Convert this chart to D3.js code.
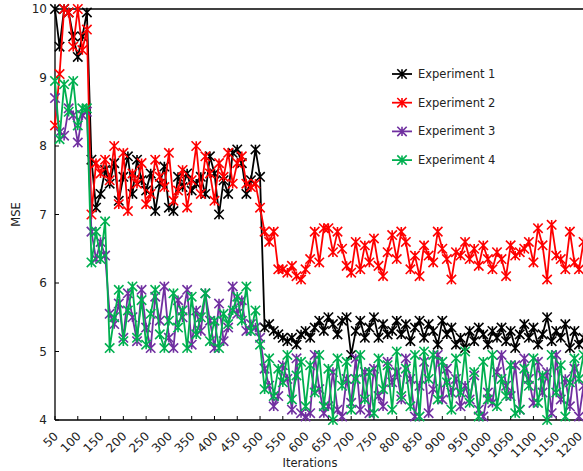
<!DOCTYPE html>
<html>
<head>
<meta charset="utf-8">
<script src="https://cdn.jsdelivr.net/npm/d3@7"></script>
<style>
  body { margin: 0; background: #fff; }
  text { font-family: "DejaVu Sans", Verdana, sans-serif; }
</style>
</head>
<body>
<svg id="chart" width="583" height="471"></svg>
<script>
// iterations, sampled every 10
const iterations = d3.range(50, 1220, 10);
const xTicks = d3.range(50, 1250, 50);
const yTicks = [4, 5, 6, 7, 8, 9, 10];

const exp1 = [
    10, 9.45, 10, 9.95, 9.6, 9.3, 9.6, 9.95,
    7.8, 7.1, 7.3, 7.65, 7.45, 7.75, 7.2, 7.55, 7.85, 7.3, 7.8, 7.5, 7.35, 7.6, 7.05, 7.45, 7.7, 7.1, 7.05,
    7.55, 7.4, 7.6, 7.35, 7.45, 7.55, 7.3, 7.85, 7.6, 7.0, 7.5, 7.3, 7.9, 7.95, 7.75, 7.3, 7.5, 7.95,
    7.55,
    5.35, 5.4, 5.3, 5.25, 5.2, 5.15, 5.2, 5.1, 5.25, 5.3,
    5.2, 5.35, 5.45, 5.3, 5.5, 5.4, 5.25, 5.45, 5.5, 4.95,
    5.3, 5.45, 5.2, 5.35, 5.5, 5.2, 5.4, 5.25, 5.3, 5.45,
    5.25, 5.4, 5.15, 5.35, 5.45, 5.2, 5.4, 5.3, 5.1, 5.45,
    5.25, 5.35, 5.1, 5.2, 5.05, 5.3, 5.15, 5.35, 5.25, 5.1,
    5.3, 5.2, 5.35, 5.15, 5.3, 5.05, 5.25, 5.4, 5.2, 5.35,
    5.1, 5.25, 5.5, 5.15, 5.3, 5.2, 5.4, 5.05, 5.3, 5.1,
    5.2
];
const exp2 = [
    8.3, 9.05, 10, 9.95, 9.45, 10, 9.4, 9.7,
    7.0, 7.75, 7.6, 7.8, 7.5, 8.0, 7.15, 7.9, 7.05, 7.6, 7.45, 7.75, 7.15, 7.3, 7.8, 7.55, 7.4, 7.9, 7.2,
    7.35, 7.65, 7.1, 7.5, 8.0, 7.3, 7.85, 7.6, 7.2, 7.75, 7.55, 7.9, 7.45, 7.75, 7.85, 7.45, 7.4, 7.45,
    7.1,
    6.75, 6.6, 6.75, 6.2, 6.2, 6.15, 6.25, 6.1, 6.05, 6.2,
    6.35, 6.75, 6.3, 6.8, 6.8, 6.45, 6.75, 6.5, 6.25, 6.15,
    6.6, 6.2, 6.55, 6.3, 6.65, 6.25, 6.1, 6.45, 6.7, 6.35,
    6.75, 6.6, 6.2, 6.4, 6.1, 6.55, 6.4, 6.3, 6.75, 6.5,
    6.35, 6.05, 6.45, 6.4, 6.6, 6.35, 6.5, 6.25, 6.55, 6.35,
    6.2, 6.45, 6.35, 6.1, 6.55, 6.4, 6.45, 6.5, 6.6, 6.3,
    6.8, 6.55, 6.05, 6.85, 6.4, 6.35, 6.2, 6.75, 6.3, 6.2,
    6.6
];
const exp3 = [
    8.7, 8.2, 8.15, 8.55, 8.45, 8.05, 8.45, 8.5,
    6.75, 6.35, 6.6, 6.4, 5.55, 5.4, 5.7, 5.2, 5.85, 5.5, 5.15, 5.9, 5.35, 5.05, 5.8, 5.45, 5.95, 5.2, 5.05,
    5.75, 5.5, 5.9, 5.1, 5.6, 5.3, 5.85, 5.45, 5.05, 5.7, 5.15, 5.35, 5.95, 5.55, 5.75, 5.3, 5.4, 5.35,
    5.2,
    4.75, 4.5, 4.2, 4.35, 4.8, 4.6, 4.15, 4.9, 4.1, 4.05,
    4.1, 4.95, 4.45, 4.1, 4.2, 4.7, 4.15, 4.05, 4.6, 4.25,
    4.9, 4.15, 4.7, 4.1, 4.75, 4.35, 4.2, 4.85, 4.55, 4.7,
    4.3, 4.9, 4.6, 4.05, 4.5, 4.85, 4.1, 4.45, 4.95, 4.3,
    4.75, 4.4, 4.6, 4.2, 4.5, 4.3, 4.65, 4.15, 4.05, 4.4,
    4.25, 4.7, 4.95, 4.5, 4.35, 4.8, 4.15, 4.9, 4.6, 4.25,
    4.85, 4.4, 4.7, 4.1, 4.95, 4.3, 4.6, 4.2, 4.75, 4.05,
    4.5
];
const exp4 = [
    8.95, 8.1, 8.9, 8.5, 8.95, 8.3, 8.55, 8.55,
    6.3, 6.75, 6.35, 6.9, 5.05, 5.5, 5.9, 5.15, 5.6, 5.95, 5.2, 5.75, 5.1, 5.55, 5.9, 5.25, 5.05, 5.45, 5.85,
    5.35, 5.6, 5.05, 5.8, 5.25, 5.5, 5.85, 5.15, 5.45, 5.05, 5.55, 5.4, 5.6, 5.8, 5.45, 5.95, 5.3, 5.6,
    5.1,
    4.45, 4.9, 4.35, 4.75, 4.55, 4.95, 4.3, 4.65, 4.85, 4.2,
    4.8, 4.4, 4.95, 4.2, 4.75, 4.0, 4.9, 4.5, 4.85, 4.15,
    4.6, 4.95, 4.3, 4.7, 4.1, 4.9, 4.45, 4.8, 4.15, 5.0,
    4.35, 4.75, 4.2, 4.95, 4.05, 5.0, 4.6, 4.95, 4.3, 4.85,
    4.55, 4.15, 4.9, 4.4, 5.0, 4.25, 4.7, 4.05, 4.85, 4.3,
    4.95, 4.2, 4.6, 4.35, 4.8, 4.1, 4.15, 4.75, 4.5, 4.9,
    4.25, 4.65, 4.0, 4.95, 4.4, 4.8, 4.05, 4.55, 4.9, 4.6,
    4.95
];

const seriesNames = ['Experiment 1', 'Experiment 2', 'Experiment 3', 'Experiment 4'];
const seriesColors = ['#000000', '#ff0000', '#7030a0', '#00b050'];
const seriesValues = [exp1, exp2, exp3, exp4];

const svg = d3.select('#chart');
const plotLeft = 55, plotTop = 9, plotBottom = 420;

// 50 -> 55px, 1200 -> 579px
const x = d3.scaleLinear().domain([50, 1200]).range([plotLeft, 579]);
const y = d3.scaleLinear().domain([4, 10]).range([plotBottom, plotTop]);

svg.append('defs').append('clipPath').attr('id', 'plotclip')
    .append('rect')
    .attr('x', plotLeft - 6).attr('y', plotTop - 6)
    .attr('width', 583 - plotLeft + 6).attr('height', plotBottom - plotTop + 12);

// top frame line
svg.append('line')
    .attr('x1', plotLeft).attr('x2', 583).attr('y1', plotTop).attr('y2', plotTop)
    .style('stroke', '#000').style('stroke-width', 1.3);

// x axis
const xAxis = svg.append('g');
xAxis.append('line')
    .attr('x1', plotLeft).attr('x2', 583).attr('y1', plotBottom).attr('y2', plotBottom)
    .style('stroke', '#000').style('stroke-width', 1.3);
xAxis.selectAll('line.tick')
    .data(xTicks)
    .enter()
    .append('line')
    .attr('class', 'tick')
    .attr('x1', d => x(d)).attr('x2', d => x(d))
    .attr('y1', plotBottom).attr('y2', plotBottom - 4)
    .style('stroke', '#000').style('stroke-width', 1);
xAxis.selectAll('text')
    .data(xTicks)
    .enter()
    .append('text')
    .attr('transform', d => `translate(${x(d) + 1}, ${plotBottom + 14}) rotate(-45)`)
    .attr('text-anchor', 'end')
    .attr('dy', '0.35em')
    .style('font-size', '12px')
    .style('fill', '#222')
    .text(d => d);

// y axis
const yAxis = svg.append('g');
yAxis.append('line')
    .attr('x1', plotLeft).attr('x2', plotLeft).attr('y1', plotTop).attr('y2', plotBottom)
    .style('stroke', '#000').style('stroke-width', 1.3);
yAxis.selectAll('line.tick')
    .data(yTicks)
    .enter()
    .append('line')
    .attr('class', 'tick')
    .attr('x1', plotLeft).attr('x2', plotLeft + 4)
    .attr('y1', d => y(d)).attr('y2', d => y(d))
    .style('stroke', '#000').style('stroke-width', 1);
yAxis.selectAll('text')
    .data(yTicks)
    .enter()
    .append('text')
    .attr('x', plotLeft - 8)
    .attr('y', d => y(d))
    .attr('dy', '0.35em')
    .attr('text-anchor', 'end')
    .style('font-size', '12px')
    .style('fill', '#222')
    .text(d => d);

// axis titles
svg.append('text')
    .attr('x', 310).attr('y', 467)
    .attr('text-anchor', 'middle')
    .style('font-size', '11.5px')
    .style('fill', '#222')
    .text('Iterations');
svg.append('text')
    .attr('transform', `translate(20, ${(plotTop + plotBottom) / 2}) rotate(-90)`)
    .attr('text-anchor', 'middle')
    .style('font-size', '11.5px')
    .style('fill', '#222')
    .text('MSE');

// star marker: an X with a vertical bar
function drawMarker(g, cx, cy, color) {
    const r = 4.7;
    g.append('path')
        .attr('d', `M${cx - r},${cy - r}L${cx + r},${cy + r}M${cx - r},${cy + r}L${cx + r},${cy - r}M${cx},${cy - r}L${cx},${cy + r}`)
        .style('stroke', color)
        .style('stroke-width', 1.6)
        .style('fill', 'none');
}

const plot = svg.append('g').attr('clip-path', 'url(#plotclip)');
const line = d3.line()
    .x(d => x(d[0]))
    .y(d => y(d[1]));

seriesValues.forEach((vals, k) => {
    const pts = iterations.map((it, i) => [it, vals[i]]);
    const g = plot.append('g');
    g.append('path')
        .datum(pts)
        .attr('d', line)
        .style('fill', 'none')
        .style('stroke', seriesColors[k])
        .style('stroke-width', 1.8);
    pts.forEach(p => drawMarker(g, x(p[0]), y(p[1]), seriesColors[k]));
});

// legend
const legend = svg.append('g');
seriesNames.forEach((name, k) => {
    const ly = 74 + k * 28.7;
    legend.append('line')
        .attr('x1', 392).attr('x2', 412).attr('y1', ly).attr('y2', ly)
        .style('stroke', seriesColors[k]).style('stroke-width', 1.8);
    drawMarker(legend, 402, ly, seriesColors[k]);
    legend.append('text')
        .attr('x', 418).attr('y', ly)
        .attr('dy', '0.35em')
        .style('font-size', '11.5px')
        .style('fill', '#222')
        .text(name);
});
</script>
</body>
</html>
